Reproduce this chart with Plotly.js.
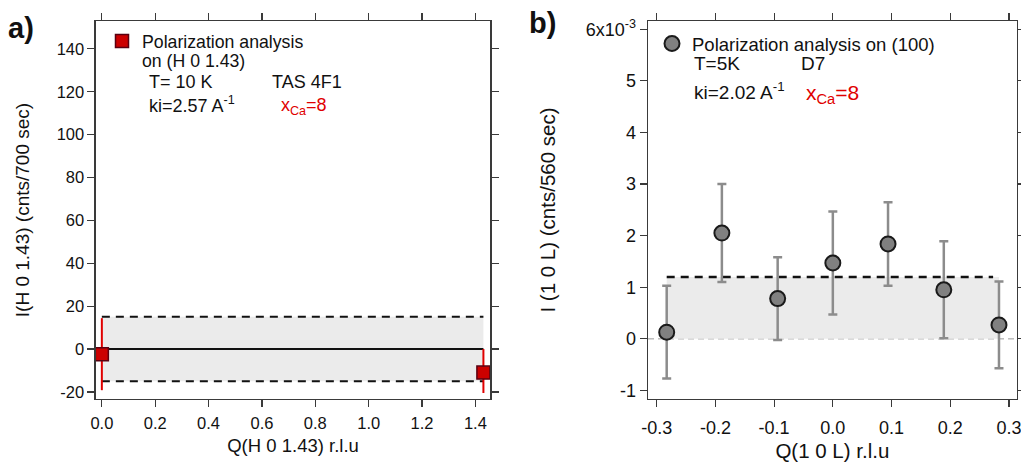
<!DOCTYPE html>
<html>
<head>
<meta charset="utf-8">
<script src="https://cdn.plot.ly/plotly-3.0.1.min.js"></script>
<style>html,body{margin:0;padding:0;background:#fff}#chart{width:1021px;height:462px}</style>
</head>
<body>
<div id="chart"></div>
<script>
// ---- Panel a) data ----
const leftQ = [0, 1.43];
const leftI = [-2.4, -11];
const leftErrPlus = [16.8, 11];
const leftErrMinus = [16.8, 9.5];
const leftBandQ = [0, 1.43];
const leftBandLow = -15;
const leftBandHigh = 15;
const leftZero = 0;
const leftXTicks = [0, 0.2, 0.4, 0.6, 0.8, 1.0, 1.2, 1.4];
const leftXTickText = ["0.0", "0.2", "0.4", "0.6", "0.8", "1.0", "1.2", "1.4"];
const leftYTicks = [-20, 0, 20, 40, 60, 80, 100, 120, 140];
const leftYTickText = ["-20", "0", "20", "40", "60", "80", "100", "120", "140"];

// ---- Panel b) data (units of 1e-3) ----
const rightQ = [-0.283, -0.189, -0.094, 0, 0.094, 0.189, 0.283];
const rightI = [0.13, 2.05, 0.78, 1.47, 1.84, 0.95, 0.27];
const rightErr = [0.9, 0.95, 0.8, 1.0, 0.81, 0.94, 0.84];
const rightBandQ = [-0.283, 0.283];
const rightBandLow = 0;
const rightBandHigh = 1.2;
const rightDashQ = [-0.283, 0.273];
const rightXTicks = [-0.3, -0.2, -0.1, 0, 0.1, 0.2, 0.3];
const rightXTickText = ["-0.3", "-0.2", "-0.1", "0.0", "0.1", "0.2", "0.3"];
const rightYTicks = [-1, 0, 1, 2, 3, 4, 5, 6];
const rightYTickText = ["-1", "0", "1", "2", "3", "4", "5", "6x10<sup>-3</sup>"];

const FONT = "Liberation Sans, Arial, sans-serif";
const AXC = "#3a3a3a";
const TXT = "#111";

function bandTrace(q, lo, hi, xa, ya) {
  return {x: [q[0], q[1], q[1], q[0], q[0]], y: [lo, lo, hi, hi, lo], xaxis: xa, yaxis: ya,
    mode: "none", fill: "toself", fillcolor: "#ebebeb", hoverinfo: "skip", showlegend: false, type: "scatter"};
}
function hLine(q, yv, xa, ya, dash, width, color) {
  return {x: q, y: q.map(() => yv), xaxis: xa, yaxis: ya, mode: "lines",
    line: {color: color, width: width, dash: dash}, hoverinfo: "skip", showlegend: false, type: "scatter"};
}

const traces = [
  bandTrace(leftBandQ, leftBandLow, leftBandHigh, "x", "y"),
  hLine(leftBandQ, leftBandHigh, "x", "y", "8px,6px", 2, "#111"),
  hLine(leftBandQ, leftBandLow, "x", "y", "8px,6px", 2, "#111"),
  hLine(leftBandQ, leftZero, "x", "y", "solid", 2, "#111"),
  {x: leftQ, y: leftI, xaxis: "x", yaxis: "y", type: "scatter", mode: "markers",
    name: "Polarization analysis", legend: "legend",
    marker: {symbol: "square", size: 13, color: "#cc0000", line: {color: "#5a0010", width: 1.5}},
    error_y: {type: "data", symmetric: false, array: leftErrPlus, arrayminus: leftErrMinus,
      color: "#e00000", thickness: 2, width: 0}},

  bandTrace(rightBandQ, rightBandLow, rightBandHigh, "x2", "y2"),
  hLine(rightDashQ, rightBandHigh, "x2", "y2", "8px,6px", 2.5, "#111"),
  {x: rightQ, y: rightI, xaxis: "x2", yaxis: "y2", type: "scatter", mode: "markers",
    name: "Polarization analysis on (100)", legend: "legend2",
    marker: {symbol: "circle", size: 15, color: "#808080", line: {color: "#1a1a1a", width: 2}},
    error_y: {type: "data", array: rightErr, color: "#8c8c8c", thickness: 2.5, width: 4.5}}
];

function axisBase(tickSize, extra) {
  return Object.assign({
    showline: true, linecolor: AXC, linewidth: 1.5, mirror: "ticks",
    ticks: "outside", ticklen: 7, tickwidth: 1.2, tickcolor: AXC,
    showgrid: false, zeroline: false, tickmode: "array", ticklabeloverflow: "allow",
    tickfont: {family: FONT, size: tickSize, color: TXT}
  }, extra);
}
function ann(text, px, py, size, color, anchor) {
  return {text: text, xref: "paper", yref: "paper", x: px / 1021, y: 1 - py / 462,
    xanchor: anchor || "left", yanchor: "middle", showarrow: false,
    font: {family: FONT, size: size, color: color || TXT}};
}

const layout = {
  width: 1021, height: 462,
  margin: {l: 0, r: 0, t: 0, b: 0},
  paper_bgcolor: "#fff", plot_bgcolor: "#fff",
  font: {family: FONT, color: TXT},
  showlegend: true,
  xaxis: axisBase(16.5, {domain: [0.094, 0.48], range: [-0.022, 1.455], anchor: "y",
    tickvals: leftXTicks, ticktext: leftXTickText, ticklabelstandoff: 2,
    title: {text: "Q(H 0 1.43) r.l.u", font: {family: FONT, size: 18.5, color: TXT}, standoff: 8}}),
  yaxis: axisBase(16.5, {domain: [0.1364, 0.9545], range: [-23.3, 153], anchor: "x",
    tickvals: leftYTicks, ticktext: leftYTickText,
    title: {text: "I(H 0 1.43) (cnts/700 sec)", font: {family: FONT, size: 19, color: TXT}, standoff: 22}}),
  xaxis2: axisBase(18, {domain: [0.6347, 0.9958], range: [-0.3148, 0.3132], anchor: "y2",
    tickvals: rightXTicks, ticktext: rightXTickText, ticklabelstandoff: 5,
    title: {text: "Q(1 0 L) r.l.u", font: {family: FONT, size: 20.5, color: TXT}, standoff: 9}}),
  yaxis2: axisBase(18, {domain: [0.1364, 0.9545], range: [-1.165, 6.16], anchor: "x2",
    tickvals: rightYTicks, ticktext: rightYTickText,
    title: {text: "I (1 0 L) (cnts/560 sec)", font: {family: FONT, size: 20.5, color: TXT}, standoff: 24}}),
  legend: {x: 102 / 1021, xanchor: "left", y: 1 - 23 / 462, yanchor: "top",
    bgcolor: "rgba(0,0,0,0)", font: {family: FONT, size: 17.7, color: TXT}},
  legend2: {x: 652 / 1021, xanchor: "left", y: 1 - 25 / 462, yanchor: "top",
    bgcolor: "rgba(0,0,0,0)", font: {family: FONT, size: 18.5, color: TXT}},
  annotations: [
    ann("<b>a)</b>", 6, 28, 29),
    ann("<b>b)</b>", 527, 23, 29),
    ann("on (H 0 1.43)", 140, 61, 17.7),
    ann("T= 10 K", 147, 82, 18),
    ann("TAS 4F1", 270, 82, 18),
    ann("ki=2.57 A<sup>-1</sup>", 147, 104, 18),
    ann("x<sub>Ca</sub>=8", 279, 106, 18, "#e00000"),
    ann("T=5K", 692, 64, 19),
    ann("D7", 799, 64, 19),
    ann("ki=2.02 A<sup>-1</sup>", 692, 91, 19),
    ann("x<sub>Ca</sub>=8", 804, 94, 21, "#e00000")
  ],
  shapes: [
    {type: "line", xref: "x2 domain", yref: "y2", x0: 0, x1: 1, y0: rightBandLow, y1: rightBandLow,
      line: {color: "#9a9a9a", width: 1, dash: "6px,4px"}, layer: "below"}
  ]
};

Plotly.newPlot("chart", traces, layout, {staticPlot: true, displayModeBar: false});
</script>
</body>
</html>
